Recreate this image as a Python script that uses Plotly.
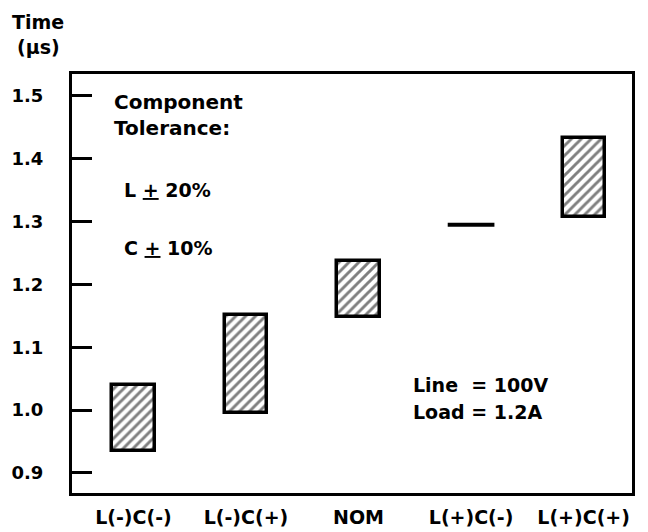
import plotly.graph_objects as go

categories = ["L(-)C(-)", "L(-)C(+)", "NOM", "L(+)C(-)", "L(+)C(+)"]
time_low = [0.935, 0.995, 1.148, 1.295, 1.308]
time_high = [1.040, 1.151, 1.237, 1.295, 1.433]
y_ticks = [0.9, 1.0, 1.1, 1.2, 1.3, 1.4, 1.5]

# page body has an 8px margin; the figure starts at (8, 8) in the window
OFF = 8
W, H = 648 - OFF, 532 - OFF
ML, MT = 72 - OFF, 74 - OFF
MR = W - (632 - OFF)
MB = H - (493 - OFF)
PW, PH = W - ML - MR, H - MT - MB
FONT = "DejaVu Sans"
BAR_W = 0.375

def px(x):
    return (x - OFF - ML) / PW

def py(y):
    return (H - MB - (y - OFF)) / PH

fig = go.Figure()

xs = list(range(len(categories)))
bar_x = [i for i in xs if time_high[i] > time_low[i]]
fig.add_trace(go.Bar(
    x=bar_x,
    y=[time_high[i] - time_low[i] for i in bar_x],
    base=[time_low[i] for i in bar_x],
    width=BAR_W,
    marker=dict(
        color="white",
        line=dict(color="black", width=3.5),
        pattern=dict(shape="/", fgcolor="black", bgcolor="white", size=7, solidity=0.42),
    ),
    showlegend=False,
))

for i in xs:
    if time_high[i] == time_low[i]:
        fig.add_trace(go.Scatter(
            x=[i - BAR_W / 2 - 0.02, i + BAR_W / 2 + 0.02],
            y=[time_low[i], time_high[i]],
            mode="lines",
            line=dict(color="black", width=4),
            showlegend=False,
        ))

fig.update_layout(
    width=W, height=H,
    margin=dict(l=ML, r=MR, t=MT, b=MB, autoexpand=False),
    paper_bgcolor="white", plot_bgcolor="white",
    font=dict(family=FONT, color="black", size=18),
    bargap=0,
)

fig.update_xaxes(
    range=[-0.546, 4.43], automargin=False,
    tickmode="array", tickvals=xs, ticktext=["<b>%s</b>" % c for c in categories],
    ticks="", showgrid=False, zeroline=False,
    showline=True, linecolor="black", linewidth=3, mirror=True,
    tickfont=dict(family=FONT, size=19, color="black"),
    ticklabelstandoff=5,
)
fig.update_yaxes(
    range=[0.868, 1.535], automargin=False,
    tickmode="array", tickvals=y_ticks, ticktext=["<b>%.1f</b>" % v for v in y_ticks],
    ticks="inside", ticklen=20, tickwidth=2.5, tickcolor="black",
    showgrid=False, zeroline=False,
    showline=True, linecolor="black", linewidth=3, mirror=True,
    tickfont=dict(family=FONT, size=18, color="black"),
    ticklabelstandoff=22,
)

def note(text, x, y, xanchor="left", size=19, yanchor="middle"):
    fig.add_annotation(
        text="<b>%s</b>" % text, x=px(x), y=py(y), xref="paper", yref="paper",
        xanchor=xanchor, yanchor=yanchor, showarrow=False,
        font=dict(family=FONT, size=size, color="black"),
    )

note("Component", 112, 102, size=20)
note("Tolerance:", 112, 128, size=20)
note("L <u>+</u> 20%", 122, 190)
note("C <u>+</u> 10%", 122, 248)
note("Line  = 100V", 411, 385)
note("Load = 1.2A", 411, 412)
note("Time", 38, 9, xanchor="center", yanchor="top")
note("(\u03bcs)", 38, 47, xanchor="center")

fig.write_html("out.html")
